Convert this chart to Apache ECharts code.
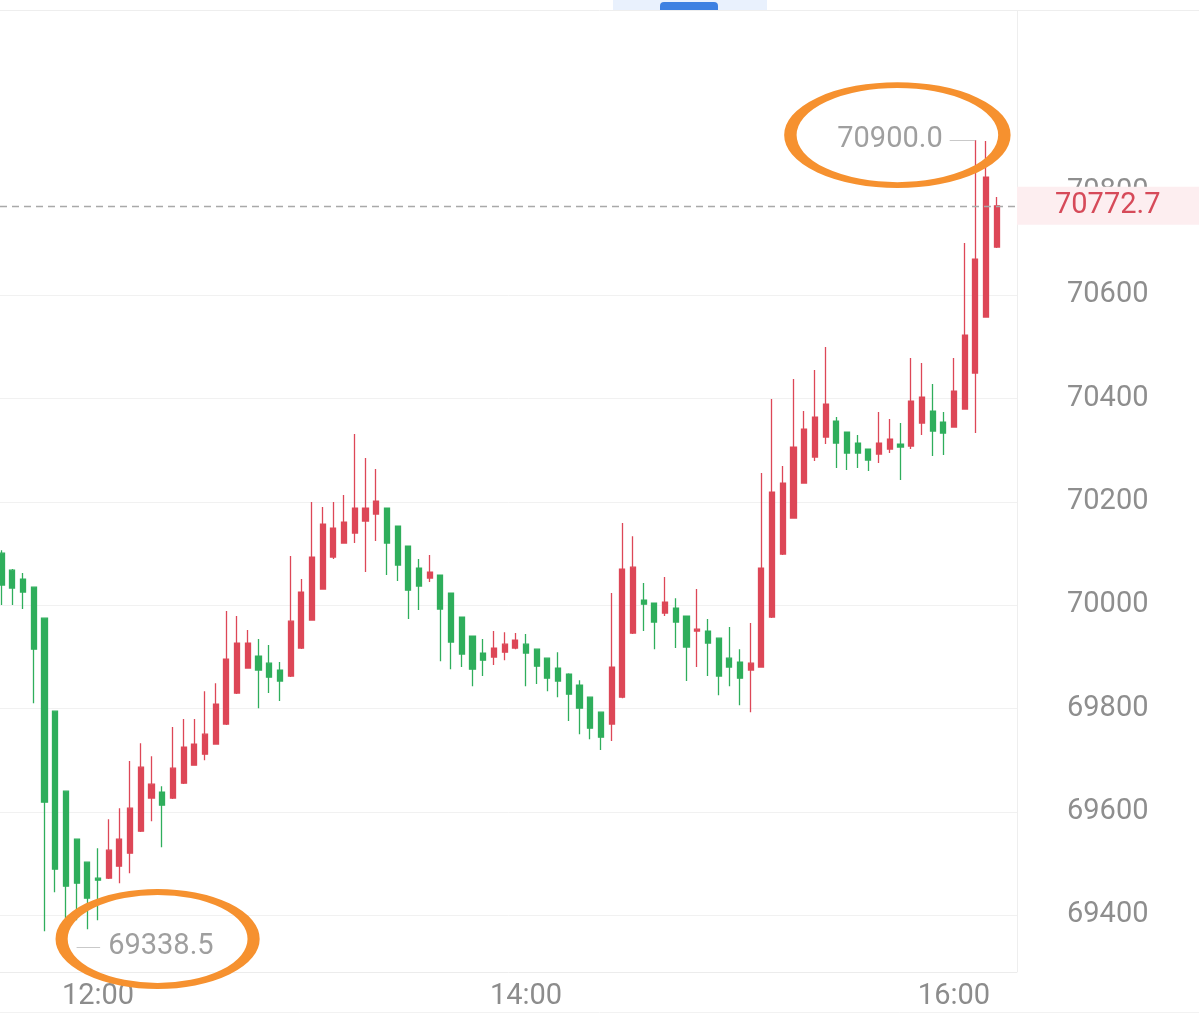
<!DOCTYPE html>
<html>
<head>
<meta charset="utf-8">
<script src="https://cdn.jsdelivr.net/npm/echarts@6/dist/echarts.min.js"></script>
<style>
html,body{margin:0;padding:0;background:#ffffff;}
#chart{width:1199px;height:1020px;}
</style>
</head>
<body>
<div id="chart"></div>
<script>
// ---- data (3-minute candles) ----
const startTime = '11:33';
const stepMinutes = 3;
const opens = [70100.6,70067.7,70050.3,70034.8,69974.8,69794.8,69640.0,69547.1,69502.6,69471.6,
  69471.6,69494.8,69520.0,69562.6,69626.5,69638.1,69626.5,69655.5,69690.3,69711.6,
  69731.0,69769.7,69829.7,69878.1,69901.3,69887.7,69874.2,69862.6,69916.8,69971.0,
  70031.0,70092.9,70120.0,70139.4,70162.6,70176.1,70187.7,70152.9,70114.2,70071.6,
  70052.3,70058.1,70023.2,69976.8,69940.0,69907.1,69899.4,69909.0,69916.8,69924.5,
  69914.8,69897.4,69878.1,69866.5,69845.2,69821.9,69792.9,69769.7,69821.9,69945.8,
  70009.7,70003.9,69984.5,69994.2,69978.7,69949.7,69949.7,69936.1,69897.4,69889.7,
  69874.2,69880.0,69976.8,70098.7,70168.4,70236.1,70286.5,70325.2,70356.1,70334.8,
  70313.6,70301.9,70292.3,70301.9,70311.6,70307.7,70352.3,70375.5,70354.2,70344.5,
  70379.4,70449.0,70557.4,70692.9];
const closes = [70038.7,70032.9,70025.2,69914.8,69618.7,69489.0,69456.1,69461.9,69432.9,69467.7,
  69525.8,69547.1,69607.1,69686.4,69653.5,69612.9,69684.5,69725.2,69731.0,69750.3,
  69808.4,69895.5,69926.5,69926.5,69874.2,69860.6,69852.9,69969.0,70025.2,70092.9,
  70156.8,70149.0,70160.6,70187.7,70187.7,70201.3,70120.0,70077.4,70029.0,70036.8,
  70063.9,69992.3,69928.4,69905.2,69876.1,69893.5,69916.8,69924.5,69932.3,69907.1,
  69881.9,69858.7,69852.9,69827.7,69800.6,69761.9,69744.5,69880.0,70069.7,70073.5,
  70001.9,69967.1,70005.8,69967.1,69918.7,69953.5,69926.5,69862.6,69880.0,69858.7,
  69887.7,70071.6,70218.7,70236.1,70305.8,70340.6,70363.9,70389.0,70313.6,70294.2,
  70294.2,70280.6,70313.6,70321.3,70305.8,70394.8,70402.6,70336.8,70332.9,70414.2,
  70522.6,70669.7,70828.4,70772.7];
const lows = [70000.0,70000.0,69992.3,69810.3,69369.0,69444.5,69394.2,69390.3,69372.9,69390.3,
  69470.0,69461.9,69481.3,69561.0,69581.9,69531.6,69625.0,69654.0,69689.0,69700.0,
  69730.0,69768.0,69828.0,69877.0,69800.6,69829.7,69814.2,69861.0,69915.0,69970.0,
  70030.0,70089.0,70119.0,70120.0,70063.9,70123.9,70058.1,70046.5,69972.9,69990.3,
  70044.5,69891.6,69876.1,69880.0,69843.2,69862.6,69883.9,69893.5,69914.8,69843.2,
  69847.1,69833.5,69821.9,69775.5,69750.3,69740.6,69719.4,69736.8,69820.0,69944.0,
  69949.7,69914.8,69978.7,69916.8,69852.9,69880.0,69862.6,69825.8,69843.2,69806.4,
  69792.9,69879.0,69975.0,70097.0,70167.0,70235.0,70278.7,70311.6,70265.2,70261.3,
  70265.2,70259.4,70274.8,70294.2,70241.9,70301.9,70329.0,70288.4,70290.3,70343.0,
  70378.0,70332.9,70556.0,70691.0];
const highs = [70106.0,70070.0,70061.9,70036.0,69976.0,69796.0,69641.0,69548.0,69503.5,69529.7,
  69585.8,69607.1,69698.1,69732.9,69707.7,69649.7,69763.9,69779.4,69779.4,69833.5,
  69849.0,69988.4,69978.7,69951.6,69934.2,69922.6,69889.7,70094.8,70050.3,70199.4,
  70189.7,70199.4,70212.9,70331.0,70284.5,70263.2,70189.0,70154.0,70115.0,70089.0,
  70096.8,70059.0,70024.0,69978.0,69941.0,69934.2,69949.7,69947.7,69945.8,69943.9,
  69916.0,69898.0,69909.0,69868.0,69854.8,69823.0,69794.0,70023.2,70158.7,70133.5,
  70042.6,70005.0,70054.2,70013.5,69980.0,70031.0,69972.9,69937.0,69957.4,69914.8,
  69965.2,70255.5,70398.7,70269.0,70437.4,70375.5,70454.8,70499.4,70363.9,70336.0,
  70329.0,70303.0,70373.6,70360.0,70352.3,70478.1,70468.4,70427.7,70373.6,70478.1,
  70700.7,70900.0,70898.0,70789.7];
const yTickValues = [69400, 69600, 69800, 70000, 70200, 70400, 70600, 70800];
const xTickLabels = ['12:00', '14:00', '16:00'];
const lastPrice = 70772.7;
const maxMark = { index: 91, value: 70900.0 };
const minMark = { index: 7, value: 69338.5 };

// ---- helpers ----
function timeOf(i) {
  const p = startTime.split(':');
  const m = (+p[0]) * 60 + (+p[1]) + i * stepMinutes;
  const hh = Math.floor(m / 60), mm = m % 60;
  return (hh < 10 ? '0' : '') + hh + ':' + (mm < 10 ? '0' : '') + mm;
}
const times = opens.map((_, i) => timeOf(i));
const candles = opens.map((o, i) => [i, o, closes[i], lows[i], highs[i]]);
const xTickIndex = xTickLabels.map(t => times.indexOf(t));

const RED = '#DD4757';
const GREEN = '#2FAE5C';
const FONT = 'Roboto';
const GRID_COLOR = '#f1f1f1';
const ellipsePath = 'path://M0 50A100 50 0 1 1 200 50A100 50 0 1 1 0 50Z';
// the topmost (70800) gridline is not drawn in the original
const splitColors = yTickValues.map((v, k) => k === yTickValues.length - 1 ? 'rgba(0,0,0,0)' : GRID_COLOR);

const chart = echarts.init(document.getElementById('chart'));
chart.setOption({
  animation: false,
  backgroundColor: '#ffffff',
  textStyle: { fontFamily: FONT },
  grid: { left: 0, right: 182, top: 89.4, bottom: 48, containLabel: false },
  xAxis: {
    type: 'value',
    min: -0.1589,
    max: 94.89,
    splitLine: { show: false },
    axisTick: { show: false },
    axisLine: { show: true, lineStyle: { color: '#ececec', width: 1 } },
    axisLabel: {
      customValues: xTickIndex,
      formatter: v => {
        const k = xTickIndex.indexOf(Math.round(v));
        return k >= 0 && Math.abs(v - Math.round(v)) < 1e-6 ? xTickLabels[k] : '';
      },
      color: '#8c8c8c', fontSize: 29, fontFamily: FONT, margin: 10
    }
  },
  yAxis: {
    type: 'value',
    position: 'right',
    min: 69290,
    max: 70998,
    splitNumber: 8,
    minInterval: 200,
    maxInterval: 200,
    scale: true,
    axisLine: { show: false },
    axisTick: { show: false },
    splitLine: { show: true, showMinLine: false, showMaxLine: false, lineStyle: { color: splitColors, width: 1 } },
    axisLabel: {
      showMinLabel: false, showMaxLabel: false,
      formatter: v => yTickValues.indexOf(v) >= 0 ? String(v) : '',
      color: '#8e8e8e', fontSize: 29, fontFamily: FONT, margin: 50, align: 'left',
      padding: [6, 0, 0, 0]
    }
  },
  graphic: [
    { type: 'line', silent: true, z: -1, shape: { x1: 0, y1: 10.5, x2: 1199, y2: 10.5 }, style: { stroke: '#eeeeee', lineWidth: 1 } },
    { type: 'rect', silent: true, z: -1, shape: { x: 613, y: 0, width: 154, height: 10 }, style: { fill: '#E9F1FD' } },
    { type: 'rect', silent: true, z: -1, shape: { x: 660, y: 2, width: 58, height: 8, r: [4, 4, 0, 0] }, style: { fill: '#3C80E2' } },
    { type: 'line', silent: true, z: -1, shape: { x1: 1017.5, y1: 10, x2: 1017.5, y2: 972 }, style: { stroke: '#eeeeee', lineWidth: 1 } },
    { type: 'line', silent: true, z: -1, shape: { x1: 0, y1: 1012.5, x2: 1199, y2: 1012.5 }, style: { stroke: '#f2f2f2', lineWidth: 1 } }
  ],
  series: [{
    type: 'candlestick',
    data: candles,
    barWidth: 5.6,
    clip: false,
    itemStyle: { color: RED, color0: GREEN, borderColor: RED, borderColor0: GREEN, borderWidth: 1.3 },
    markLine: {
      silent: true,
      animation: false,
      symbol: ['none', 'none'],
      data: [
        {
          yAxis: lastPrice,
          lineStyle: { type: [7, 5], color: '#a9a9a9', width: 1.4 },
          label: {
            show: true, position: 'end', distance: 0,
            formatter: lastPrice.toFixed(1),
            color: '#D64A59', fontSize: 29, fontFamily: FONT,
            backgroundColor: '#FDEEF0', padding: [7, 40, 2, 38]
          }
        },
        [
          {
            coord: [maxMark.index, maxMark.value],
            lineStyle: { type: 'solid', color: '#c9c9c9', width: 1 },
            label: { show: true, position: 'end', distance: 7, formatter: maxMark.value.toFixed(1), color: '#9f9f9f', fontSize: 29, fontFamily: FONT, padding: [8, 0, 0, 0] }
          },
          { coord: [maxMark.index - 2.4, maxMark.value] }
        ],
        [
          {
            coord: [minMark.index, minMark.value],
            lineStyle: { type: 'solid', color: '#c9c9c9', width: 1 },
            label: { show: true, position: 'end', distance: 8, formatter: minMark.value.toFixed(1), color: '#9f9f9f', fontSize: 29, fontFamily: FONT, padding: [6, 0, 0, 0] }
          },
          { coord: [minMark.index + 2.2, minMark.value] }
        ]
      ]
    },
    markPoint: {
      silent: true,
      animation: false,
      symbol: ellipsePath,
      label: { show: false },
      itemStyle: { color: 'rgba(0,0,0,0)', borderColor: '#F6912F', borderWidth: 8.5 },
      data: [
        { coord: [maxMark.index, maxMark.value], symbolSize: [214, 100], symbolOffset: [-78, -5] },
        { coord: [minMark.index, minMark.value], symbolSize: [192, 94], symbolOffset: [81, -8] }
      ]
    }
  }]
});
</script>
</body>
</html>
